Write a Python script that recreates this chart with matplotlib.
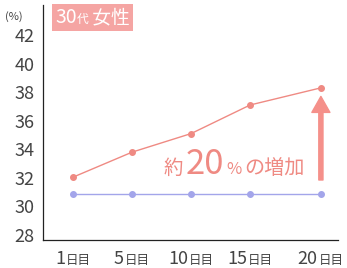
import matplotlib
matplotlib.use("Agg")
import matplotlib.pyplot as plt
from matplotlib.offsetbox import TextArea, HPacker, AnnotationBbox

plt.rcParams['font.family'] = ['Noto Sans CJK JP', 'DejaVu Sans']

# data
days = ["1", "5", "10", "15", "20"]
day_pos = [0, 1, 2, 3, 4.2]
women_30s = [32.05, 33.8, 35.1, 37.1, 38.3]
baseline = [30.9, 30.9, 30.9, 30.9, 30.9]
y_ticks = [28, 30, 32, 34, 36, 38, 40, 42]

red = "#ef8a83"
blue = "#a3a5ea"
pink_box = "#f5a5a3"
text_col = "#444444"

fig = plt.figure(figsize=(3.47, 2.68), dpi=100)
ax = fig.add_axes([43 / 347, 28 / 268, 295 / 347, 235 / 268])

ax.plot(day_pos, women_30s, color=red, lw=1.0, marker='o', ms=4, zorder=3)
ax.plot(day_pos, baseline, color=blue, lw=1.0, marker='o', ms=4, zorder=3)

ax.set_xlim(-0.51, 4.49)
ax.set_ylim(27.65, 44.1)
ax.set_yticks(y_ticks)
ax.set_yticklabels([str(t) for t in y_ticks], fontsize=13, color=text_col)
ax.tick_params(axis='y', length=0, pad=6)
ax.set_xticks([])
for side in ['top', 'right']:
    ax.spines[side].set_visible(False)
for side in ['left', 'bottom']:
    ax.spines[side].set_color('#222222')
    ax.spines[side].set_linewidth(0.9)

# x labels: big number, small 日目
for pos, d in zip(day_pos, days):
    pack = HPacker(children=[TextArea(d, textprops=dict(fontsize=13, color=text_col)),
                             TextArea("日目", textprops=dict(fontsize=9, color=text_col))],
                   align="baseline", pad=0, sep=1)
    ab = AnnotationBbox(pack, (pos, 0), xycoords=('data', 'axes fraction'),
                        xybox=(0, -7), boxcoords='offset points',
                        box_alignment=(0.5, 1), frameon=False)
    ax.add_artist(ab)

fig.text(5 / 347, 1 - 17 / 268, "(%)", fontsize=8, color=text_col, va='center')

# title badge
title = HPacker(children=[TextArea("30", textprops=dict(fontsize=14, color='white')),
                          TextArea("代", textprops=dict(fontsize=8.5, color='white')),
                          TextArea(" 女性", textprops=dict(fontsize=13.5, color='white'))],
                align="baseline", pad=0, sep=0)
tb = AnnotationBbox(title, (55 / 347, 1 - 7 / 268), xycoords='figure fraction',
                    box_alignment=(0, 1), frameon=True, pad=0.2,
                    bboxprops=dict(facecolor=pink_box, edgecolor='none', boxstyle='square,pad=0.2'))
fig.add_artist(tb)

# annotation
note = HPacker(children=[TextArea("約", textprops=dict(fontsize=14, color=red)),
                         TextArea("20", textprops=dict(fontsize=25, color=red)),
                         TextArea("%", textprops=dict(fontsize=12, color=red)),
                         TextArea("の増加", textprops=dict(fontsize=14.5, color=red))],
               align="baseline", pad=0, sep=2)
nb = AnnotationBbox(note, (305 / 347, 1 - 182 / 268), xycoords='figure fraction',
                    box_alignment=(1, 0), frameon=False)
fig.add_artist(nb)

ax.annotate('', xy=(4.2, 37.7), xytext=(4.2, 31.85),
            arrowprops=dict(arrowstyle='simple,head_length=1.15,head_width=1.3,tail_width=0.3',
                            color="#f5908a", shrinkA=0, shrinkB=0, mutation_scale=10))

fig.savefig("out.png", dpi=100)
